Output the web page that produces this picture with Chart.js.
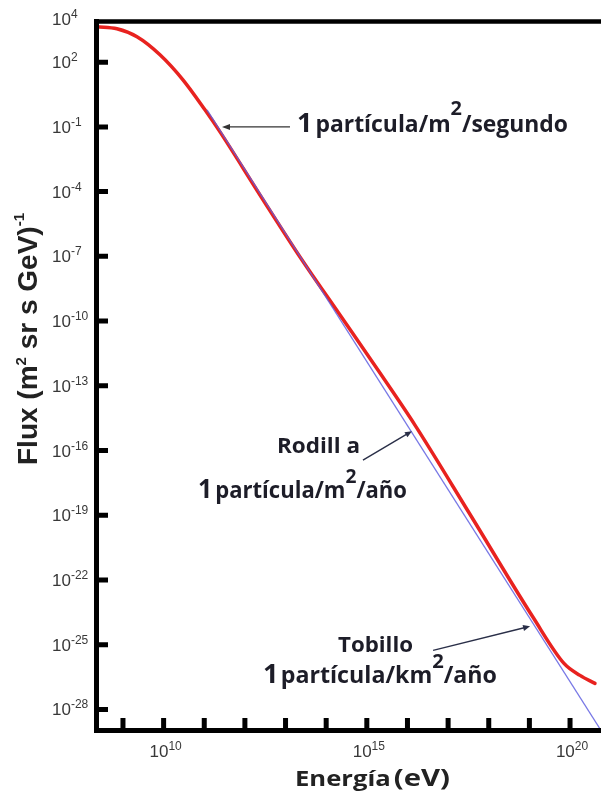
<!DOCTYPE html>
<html>
<head>
<meta charset="utf-8">
<script src="https://cdn.jsdelivr.net/npm/chart.js@4"></script>
<style>
  body { margin: 0; background: #fff; }
  #wrap { width: 601px; height: 792px; }
</style>
</head>
<body>
<div id="wrap"><canvas id="chart-flux" width="601" height="792"></canvas></div>
<script>
// espectro de rayos cosmicos
const energy = [2.29e8, 7.11e8, 2.21e9, 8.13e9, 2.99e10, 1.04e11, 2.44e11, 2.35e12, 2.27e13,
  2.19e14, 2.11e15, 1.53e16, 3.45e17, 1.23e19, 7.10e19, 1.76e20, 4.11e20];
const flux = [4.36e3, 3.52e3, 1.50e3, 2.19e2, 1.51e1, 6.15e-1, 5.86e-2, 7.00e-5, 9.31e-8,
  1.90e-10, 3.87e-13, 1.50e-15, 1.11e-19, 1.86e-24, 1.36e-26, 3.78e-27, 1.61e-27];

// ley de potencia (linea azul)
const powerEnergy = [1.17e11, 5.78e20];
const powerFlux = [6.15e-1, 1.06e-29];

// marcas de los ejes (exponentes de 10)
const xTickExp = [9, 10, 11, 12, 13, 14, 15, 16, 17, 18, 19, 20];
const xLabelExp = [10, 15, 20];
const yTickExp = [4, 2, -1, -4, -7, -10, -13, -16, -19, -22, -25, -28];

// puntas de flecha de las anotaciones (energia, flujo)
const arrowEnergy = [2.73e11, 1.29e16, 1.04e19];
const arrowFlux = [1e-1, 7.88e-16, 7.10e-25];

const toXY = (xs, ys) => xs.map((x, i) => ({ x: x, y: ys[i] }));

function runs(ctx, x, base, parts, target) {
  const widths = parts.map(p => { ctx.font = p[1]; return ctx.measureText(p[0]).width; });
  const total = widths.reduce((a, b) => a + b, 0);
  const sx = target ? target / total : 1;
  ctx.save();
  ctx.translate(x, base);
  ctx.scale(sx, 1);
  let cx = 0;
  parts.forEach((p, i) => {
    ctx.font = p[1];
    ctx.fillText(p[0], cx, -(p[2] || 0));
    cx += widths[i];
  });
  ctx.restore();
}

function arrow(ctx, x0, y0, x1, y1, color, head) {
  const a = Math.atan2(y1 - y0, x1 - x0);
  ctx.save();
  ctx.strokeStyle = color;
  ctx.fillStyle = color;
  ctx.lineWidth = 1.4;
  ctx.beginPath();
  ctx.moveTo(x0, y0);
  ctx.lineTo(x1 - Math.cos(a) * 4, y1 - Math.sin(a) * 4);
  ctx.stroke();
  ctx.beginPath();
  ctx.moveTo(x1, y1);
  ctx.lineTo(x1 - head * Math.cos(a) + 3 * Math.sin(a), y1 - head * Math.sin(a) - 3 * Math.cos(a));
  ctx.lineTo(x1 - head * Math.cos(a) - 3 * Math.sin(a), y1 - head * Math.sin(a) + 3 * Math.cos(a));
  ctx.closePath();
  ctx.fill();
  ctx.restore();
}

const frame = {
  id: 'frame',
  afterDraw(chart) {
    const { ctx, chartArea: a, scales: { x, y } } = chart;
    ctx.save();
    ctx.strokeStyle = '#000';
    ctx.lineCap = 'butt';

    // ejes
    ctx.lineWidth = 5;
    ctx.beginPath();
    ctx.moveTo(a.left + 1.5, a.top);
    ctx.lineTo(a.left + 1.5, a.bottom + 2);
    ctx.moveTo(a.left, a.bottom - 0.5);
    ctx.lineTo(a.right, a.bottom - 0.5);
    ctx.stroke();
    ctx.lineWidth = 4.5;
    ctx.beginPath();
    ctx.moveTo(a.left, a.top + 2.5);
    ctx.lineTo(a.right, a.top + 2.5);
    ctx.stroke();

    // marcas hacia dentro
    ctx.lineWidth = 5;
    ctx.beginPath();
    yTickExp.forEach(e => {
      if (e === 4) return;
      const py = y.getPixelForValue(Math.pow(10, e));
      ctx.moveTo(a.left, py);
      ctx.lineTo(a.left + 13, py);
    });
    xTickExp.forEach(e => {
      const px = x.getPixelForValue(Math.pow(10, e));
      ctx.moveTo(px, a.bottom);
      ctx.lineTo(px, a.bottom - 13);
    });
    ctx.stroke();

    // etiquetas de marcas
    ctx.fillStyle = '#383838';
    ctx.textBaseline = 'alphabetic';
    const big = '17px "Liberation Sans"', small = '12px "Liberation Sans"';
    yTickExp.forEach(e => {
      const py = y.getPixelForValue(Math.pow(10, e));
      ctx.font = big;
      ctx.fillText('10', 52, py + 6);
      const w = ctx.measureText('10').width;
      ctx.font = small;
      ctx.fillText(e < 0 ? '-' + (-e) : String(e), 52 + w, py - 1);
    });
    xLabelExp.forEach(e => {
      const px = x.getPixelForValue(Math.pow(10, e));
      ctx.font = big;
      const w1 = ctx.measureText('10').width;
      ctx.font = small;
      const w2 = ctx.measureText(String(e)).width;
      const x0 = px - (w1 + w2) / 2 + 2;
      ctx.font = big;
      ctx.fillText('10', x0, 757);
      ctx.font = small;
      ctx.fillText(String(e), x0 + w1, 750);
    });

    // titulos de ejes
    ctx.fillStyle = '#222';
    const OB = s => 'bold ' + s + 'px "Open Sans"';
    runs(ctx, 295, 786, [['Energía', OB(21)], [' ', OB(10)], ['(eV)', OB(24)]], 155);
    ctx.save();
    ctx.translate(37, 465);
    ctx.rotate(-Math.PI / 2);
    const AB = s => 'bold ' + s + 'px "Liberation Sans"';
    runs(ctx, 0, 0, [['Flux (m', AB(28)], ['2', AB(15), 11], [' sr s GeV)', AB(28)], ['-1', AB(15), 13]], 252);
    ctx.restore();

    // anotaciones
    const tips = arrowEnergy.map((e, i) => [x.getPixelForValue(e), y.getPixelForValue(arrowFlux[i])]);
    arrow(ctx, tips[0][0] + 68, tips[0][1], tips[0][0], tips[0][1], '#333', 8);
    arrow(ctx, tips[1][0] - 49, tips[1][1] + 29, tips[1][0], tips[1][1], '#2a2f48', 7);
    arrow(ctx, tips[2][0] - 97, tips[2][1] + 24, tips[2][0], tips[2][1], '#2a2f48', 7);

    ctx.fillStyle = '#1d1d28';
    runs(ctx, 297, 132, [['1', OB(27)], [' ', OB(12)], ['partícula/m', OB(23)], ['2', OB(20), 17], ['/segundo', OB(23)]], 271);
    runs(ctx, 277, 453, [['Rodill a', OB(22)]], 83);
    runs(ctx, 198, 498, [['1', OB(26)], [' ', OB(12)], ['partícula/m', OB(23)], ['2', OB(20), 15], ['/año', OB(23)]], 209);
    runs(ctx, 338, 652, [['Tobillo', OB(22)]], 75);
    runs(ctx, 263, 683, [['1', OB(27)], [' ', OB(8)], ['partícula/km', OB(23)], ['2', OB(20), 15], ['/año', OB(23)]], 234);
    ctx.restore();
  }
};

new Chart(document.getElementById('chart-flux'), {
  type: 'line',
  data: {
    datasets: [
      {
        label: 'ley de potencia',
        data: toXY(powerEnergy, powerFlux),
        borderColor: 'rgba(95, 95, 225, 0.85)',
        borderWidth: 1.3,
        pointRadius: 0,
        tension: 0,
      },
      {
        label: 'flujo',
        data: toXY(energy, flux),
        borderColor: '#e8221f',
        borderWidth: 3.5,
        pointRadius: 0,
        cubicInterpolationMode: 'monotone',
        borderCapStyle: 'round',
      },
    ],
  },
  options: {
    responsive: false,
    animation: false,
    devicePixelRatio: 1,
    layout: { padding: { top: 19, left: 0, right: 0, bottom: 0 } },
    plugins: { legend: { display: false }, tooltip: { enabled: false } },
    scales: {
      x: {
        type: 'logarithmic',
        min: 2.05e8,
        max: 5.78e20,
        grid: { display: false },
        border: { display: false },
        ticks: { display: false },
        afterFit(s) { s.height = 61; },
      },
      y: {
        type: 'logarithmic',
        min: 1e-29,
        max: 1e4,
        grid: { display: false },
        border: { display: false },
        ticks: { display: false },
        afterFit(s) { s.width = 95; },
      },
    },
  },
  plugins: [frame],
});
</script>
</body>
</html>
